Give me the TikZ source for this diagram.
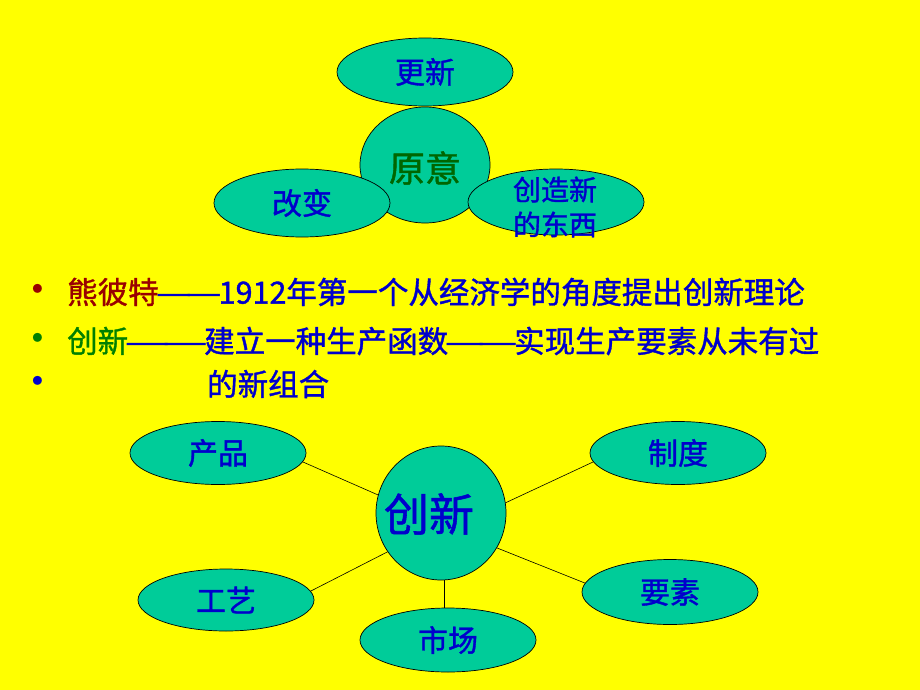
\documentclass[tikz,border=0pt]{standalone}
\usepackage{fontspec}
\usepackage{graphicx}
\usetikzlibrary{shapes.geometric}
\newfontfamily\cjk[FakeBold=1.2]{Noto Sans CJK SC}
\newcommand{\dd}{\makebox[30pt]{\scalebox{1.3}[1]{—}}}
\newcommand{\ddw}[2]{\makebox[#1pt]{\scalebox{#2}[1]{—}}}
\definecolor{bg}{HTML}{FFFF00}
\definecolor{teal}{HTML}{00CC99}
\definecolor{tblue}{HTML}{0000CC}
\definecolor{tred}{HTML}{990000}
\definecolor{tgreen}{HTML}{008000}
\definecolor{dgreen}{HTML}{006600}
\tikzset{
  oval/.style={ellipse, draw=black, line width=0.7pt, fill=teal, inner sep=0pt,
    minimum width=176pt, minimum height=66pt, text=tblue, font=\cjk\fontsize{30}{32}\selectfont},
  bigc/.style={ellipse, draw=black, line width=0.7pt, fill=teal, inner sep=0pt,
    minimum width=130pt, minimum height=118pt},
  conn/.style={line width=0.6pt, draw=black},
  btxt/.style={anchor=west, inner sep=0pt, font=\cjk\fontsize{30.5}{32}\selectfont},
  bul/.style={inner sep=0pt, font=\fontsize{40}{40}\selectfont}
}
\begin{document}
\begin{tikzpicture}[x=1pt,y=-1pt]
\fill[bg] (0,0) rectangle (920,690);
\useasboundingbox (0,0) rectangle (920,690);
% top cluster
\node[oval, minimum height=68pt] (gx) at (425,72) {更新};
\node[bigc, minimum height=116pt] (yy) at (425,165) {};
\node[inner sep=0pt, text=dgreen, font=\cjk\fontsize{36}{38}\selectfont] (yyt) at (425,168) {原意};
\node[oval, minimum height=68pt] (gb) at (302,203) {改变};
\node[oval] (cz) at (556,202) {};
\node[inner sep=0pt, align=center, text=tblue, font=\cjk\fontsize{28}{35}\selectfont] (czt) at (555,207) {创造新\\的东西};
% bullets
\node[bul, text=tred] (b1) at (38,292) {•};
\node[btxt] (l1) at (67,292) {\textcolor{tred}{熊彼特}\textcolor{tblue}{\dd\dd 1912年第一个从经济学的角度提出创新理论}};
\node[bul, text=tgreen] (b2) at (38,341) {•};
\node[btxt] (l2) at (67,341) {\textcolor{tgreen}{创新}\textcolor{tblue}{\ddw{38}{1.65}\ddw{38}{1.65}建立一种生产函数\ddw{33}{1.45}\ddw{33}{1.45}实现生产要素从未有过}};
\node[bul, text=tblue] (b3) at (38,384) {•};
\node[btxt] (l3) at (207,384) {\textcolor{tblue}{的新组合}};
% bottom cluster
\node[oval, minimum height=63pt] (cp) at (218,453) {产品};
\node[oval, minimum height=63pt] (zd) at (678,453) {制度};
\node[oval, minimum height=62pt] (gy) at (226,600) {工艺};
\node[oval, minimum height=65pt] (ys) at (670,592) {要素};
\node[oval, minimum height=64pt] (sc) at (448,640) {市场};
\node[bigc, minimum height=134pt] (cx) at (441,513) {};
\node[inner sep=0pt, text=tblue, font=\cjk\fontsize{45}{46}\selectfont] (cxt) at (429,514) {创新};
\draw[conn] (cp.-6) -- (cx.164);
\draw[conn] (zd.-174) -- (cx.9);
\draw[conn] (gy.6) -- (cx.216);
\draw[conn] (ys.174) -- (cx.-32);
\draw[conn] (cx.-87) -- (cx.-87 |- sc.north);
\end{tikzpicture}
\end{document}
